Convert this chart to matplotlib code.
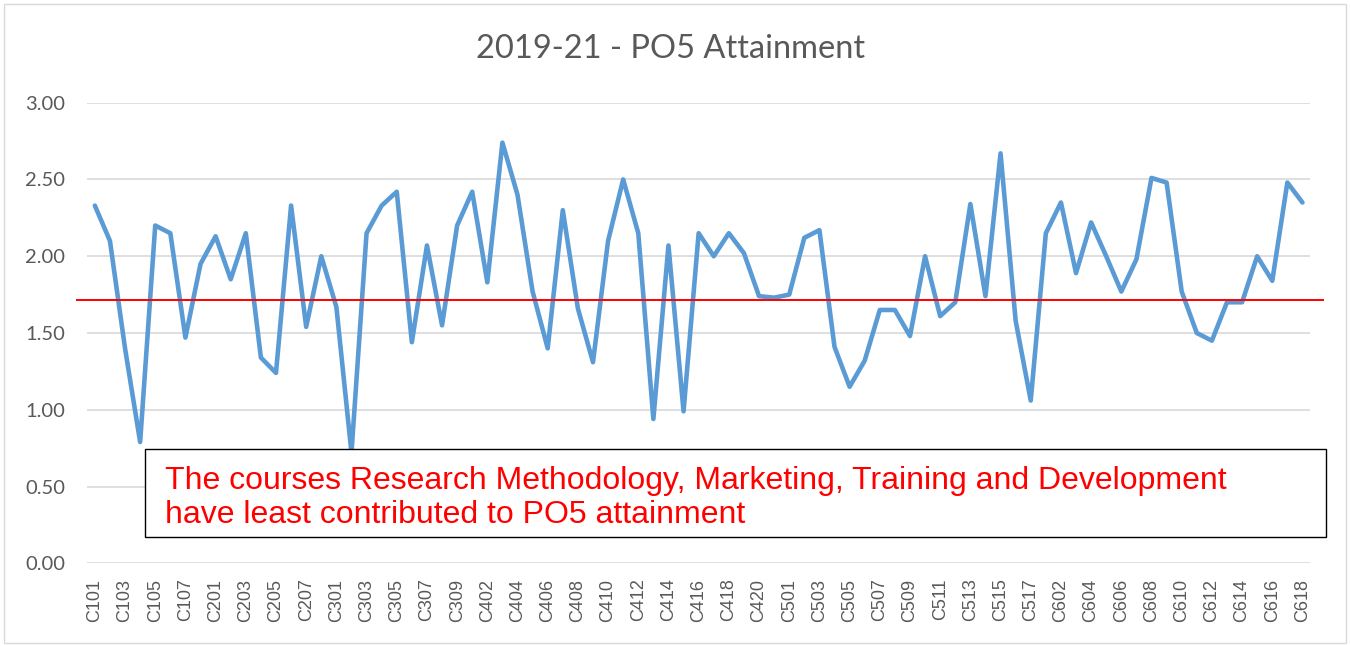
import matplotlib
matplotlib.use("Agg")
import matplotlib.pyplot as plt
from matplotlib.patches import Rectangle

courses = (
    [f"C10{i}" for i in range(1, 9)]
    + [f"C20{i}" for i in range(1, 9)]
    + [f"C30{i}" for i in range(1, 10)]
    + [f"C4{i:02d}" for i in range(1, 22)]
    + [f"C5{i:02d}" for i in range(1, 18)]
    + [f"C6{i:02d}" for i in range(1, 19)]
)

attainment = [
    2.33, 2.10, 1.40, 0.79, 2.20, 2.15, 1.47, 1.95,      # C101-C108
    2.13, 1.85, 2.15, 1.34, 1.24, 2.33, 1.54, 2.00,      # C201-C208
    1.67, 0.72, 2.15, 2.33, 2.42, 1.44, 2.07, 1.55, 2.20,  # C301-C309
    2.42, 1.83, 2.74, 2.40, 1.77, 1.40, 2.30, 1.66, 1.31, 2.10,
    2.50, 2.15, 0.94, 2.07, 0.99, 2.15, 2.00, 2.15, 2.02, 1.74, 1.73,  # C401-C421
    1.75, 2.12, 2.17, 1.41, 1.15, 1.32, 1.65, 1.65, 1.48, 2.00,
    1.61, 1.70, 2.34, 1.74, 2.67, 1.58, 1.06,            # C501-C517
    2.15, 2.35, 1.89, 2.22, 2.00, 1.77, 1.98, 2.51, 2.48, 1.77,
    1.50, 1.45, 1.70, 1.70, 2.00, 1.84, 2.48, 2.35,      # C601-C618
]

average_level = 1.715
y_ticks = [0.0, 0.5, 1.0, 1.5, 2.0, 2.5, 3.0]
title = "2019-21 - PO5 Attainment"
note = ("The courses Research Methodology, Marketing, Training and Development\n"
        "have least contributed to PO5 attainment")

W, H = 1350, 646
fig = plt.figure(figsize=(W / 100, H / 100), dpi=100)
ax = fig.add_axes([87.3 / W, 1 - 563.3 / H, (1310 - 87.3) / W, (563.3 - 102.7) / H])

xs = list(range(len(courses)))
ax.plot(xs, attainment, color="#5B9BD5", lw=3.3, solid_joinstyle="round",
        solid_capstyle="round", zorder=3, clip_on=False)

ax.set_xlim(-0.5, len(courses) - 0.5)
ax.set_ylim(0, 3)
ax.set_yticks(y_ticks)
ax.set_yticklabels([f"{v:.2f}" for v in y_ticks], family="Lato", fontsize=14.5,
                   color="#595959")
ax.set_xticks(xs[::2])
ax.set_xticklabels(courses[::2], rotation=90, family="Liberation Sans",
                   fontsize=13, color="#595959")
ax.tick_params(length=0)
ax.tick_params(axis="x", pad=11)
ax.tick_params(axis="y", pad=16)
ax.grid(axis="y", color="#D9D9D9", lw=1.2, zorder=0)
for s in ax.spines.values():
    s.set_visible(False)
ax.set_axisbelow(True)

# Average reference line (extends slightly beyond the plot area)
spacing = (1310 - 87.3) / len(courses)
x0 = -0.5 - (87.3 - 76.7) / spacing
x1 = len(courses) - 0.5 + (1322.7 - 1310) / spacing
ax.plot([x0, x1], [average_level, average_level], color="#FF0000", lw=1.4,
        zorder=4, clip_on=False)

fig.text(671 / W, 1 - 49 / H, title, ha="center", va="center", family="Lato",
         fontsize=23.5, color="#595959")

# Annotation box
box = Rectangle((145 / W, 1 - 536.7 / H), (1326 - 145) / W, (536.7 - 449.3) / H,
                transform=fig.transFigure, facecolor="white", edgecolor="black",
                lw=1.0, zorder=10)
fig.add_artist(box)
fig.text(165 / W, 1 - 498 / H, note, ha="left", va="center", family="Liberation Sans",
         fontsize=23.0, color="#FF0000", linespacing=1.17, zorder=11)

# Chart-area border
fig.add_artist(Rectangle((4 / W, 3 / H), (W - 8) / W, (H - 7) / H,
                         transform=fig.transFigure, facecolor="none",
                         edgecolor="#D9D9D9", lw=1.0))

fig.savefig("out.png", dpi=100)
